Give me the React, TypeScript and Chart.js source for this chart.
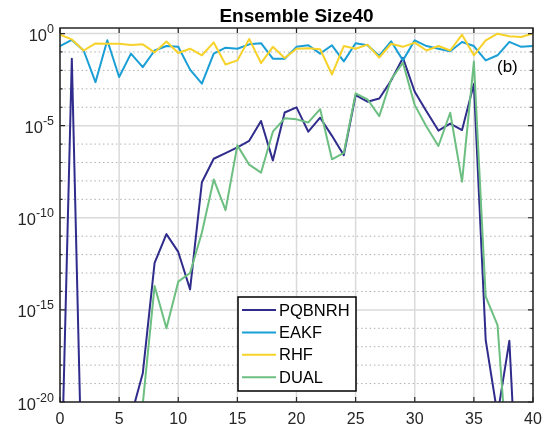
import { useEffect, useRef } from "react";
import { Chart, registerables } from "chart.js";

Chart.register(...registerables);

// Assimilation step index (x axis)
const STEPS = [
  0, 1, 2, 3, 4, 5, 6, 7, 8, 9, 10, 11, 12, 13, 14, 15, 16, 17, 18, 19, 20,
  21, 22, 23, 24, 25, 26, 27, 28, 29, 30, 31, 32, 33, 34, 35, 36, 37, 38, 39, 40,
];

// Error per step for each filter
const PQBNRH = [
  6e-28, 0.043, 4e-29, 1e-30, 1e-30, 1e-30, 1.6e-21, 3.6e-19, 3.6e-13, 1.3e-11,
  1.4e-12, 1.3e-14, 8.5e-9, 1.6e-7, 3.2e-7, 6.6e-7, 1.5e-6, 1.8e-5, 1.3e-7, 5.2e-5,
  9.8e-5, 4.7e-6, 2.7e-5, 2.8e-6, 2.5e-7, 4.5e-4, 2.0e-4, 3.0e-4, 2.8e-3, 0.048,
  6.9e-4, 5.8e-5, 5.4e-6, 1.3e-5, 5.8e-6, 1.8e-3, 2.3e-17, 2e-21, 2.1e-17, 4e-30,
  1e-30,
];
const EAKF = [
  0.21, 0.45, 0.12, 2.3e-3, 0.43, 4.4e-3, 0.081, 0.015, 0.12, 0.21,
  0.19, 0.011, 1.9e-3, 0.081, 0.17, 0.15, 0.26, 0.30, 0.043, 0.043,
  0.19, 0.23, 0.081, 0.23, 0.031, 0.30, 0.23, 0.063, 0.38, 0.035,
  0.43, 0.21, 0.15, 0.11, 0.35, 0.21, 0.035, 0.066, 0.35, 0.19,
  0.21,
];
const RHF = [
  0.87, 0.48, 0.12, 0.29, 0.28, 0.28, 0.24, 0.26, 0.095, 0.37,
  0.088, 0.15, 0.066, 0.33, 0.021, 0.035, 0.51, 0.025, 0.19, 0.047,
  0.15, 0.16, 0.14, 6.0e-3, 0.21, 0.15, 0.25, 0.050, 0.28, 0.19,
  0.32, 0.12, 0.21, 0.12, 0.87, 0.066, 0.43, 0.98, 0.72, 0.65,
  1.0,
];
const DUAL = [
  1e-30, 1e-30, 1e-30, 1e-30, 1e-30, 1e-30, 1e-26, 8e-21, 2e-14, 1e-16,
  3.4e-14, 1e-13, 1.6e-11, 1.2e-8, 2.6e-10, 8.5e-7, 7.6e-8, 2.8e-8, 4.7e-6, 2.5e-5,
  2.2e-5, 1.5e-5, 7.9e-5, 1.5e-7, 3.3e-7, 5.6e-4, 2.7e-4, 3.3e-5, 3.2e-3, 0.026,
  1.3e-4, 8.7e-6, 7.9e-7, 5.0e-5, 9.1e-9, 0.030, 5.2e-15, 1.5e-16, 2e-25, 1e-30,
  1e-30,
];

const SERIES = [PQBNRH, EAKF, RHF, DUAL];
const SERIES_NAMES = ["PQBNRH", "EAKF", "RHF", "DUAL"];
const SERIES_COLORS = ["#2f2c8c", "#1a9ed6", "#f7d22a", "#6cbf80"];

const X_TICKS = [0, 5, 10, 15, 20, 25, 30, 35, 40];
const Y_LABEL_EXPONENTS = [0, -5, -10, -15, -20];
const Y_DECADES = [
  0, -1, -2, -3, -4, -5, -6, -7, -8, -9, -10,
  -11, -12, -13, -14, -15, -16, -17, -18, -19, -20,
];
const Y_MIN = 1e-20;
const Y_MAX = 2;
const X_MIN = 0;
const X_MAX = 40;

const TITLE = "Ensemble Size40";
const PANEL_TAG = "(b)";

const FONT = '"Liberation Sans", Arial, Helvetica, sans-serif';
const AXIS_COLOR = "#262626";

const axesDecor = {
  id: "axesDecor",
  beforeDatasetsDraw(chart: any) {
    const { ctx, chartArea: a, scales } = chart;
    const xs = scales.x;
    const ys = scales.y;
    ctx.save();
    // vertical grid at the x ticks
    ctx.strokeStyle = "#dadada";
    ctx.lineWidth = 1.5;
    for (const t of X_TICKS) {
      const px = xs.getPixelForValue(t);
      ctx.beginPath();
      ctx.moveTo(px, a.top);
      ctx.lineTo(px, a.bottom);
      ctx.stroke();
    }
    // horizontal grid: solid at labelled decades, dotted elsewhere
    for (const e of Y_DECADES) {
      const py = ys.getPixelForValue(Math.pow(10, e));
      ctx.beginPath();
      if (Y_LABEL_EXPONENTS.includes(e)) {
        ctx.setLineDash([]);
        ctx.strokeStyle = "#dadada";
        ctx.lineWidth = 1.5;
      } else {
        ctx.setLineDash([1.5, 2.8]);
        ctx.strokeStyle = "#b0b0b0";
        ctx.lineWidth = 1;
      }
      ctx.moveTo(a.left, py);
      ctx.lineTo(a.right, py);
      ctx.stroke();
    }
    ctx.restore();
  },
  afterDatasetsDraw(chart: any) {
    const { ctx, chartArea: a, scales } = chart;
    const xs = scales.x;
    const ys = scales.y;
    ctx.save();
    ctx.setLineDash([]);

    // axes box
    ctx.strokeStyle = AXIS_COLOR;
    ctx.lineWidth = 1.5;
    ctx.strokeRect(a.left, a.top, a.right - a.left, a.bottom - a.top);

    // inward ticks, mirrored on all four sides
    ctx.lineWidth = 1.2;
    for (const t of X_TICKS) {
      const px = xs.getPixelForValue(t);
      ctx.beginPath();
      ctx.moveTo(px, a.bottom);
      ctx.lineTo(px, a.bottom - 5);
      ctx.moveTo(px, a.top);
      ctx.lineTo(px, a.top + 5);
      ctx.stroke();
    }
    for (const e of Y_DECADES) {
      const py = ys.getPixelForValue(Math.pow(10, e));
      const len = Y_LABEL_EXPONENTS.includes(e) ? 5 : 2.6;
      ctx.beginPath();
      ctx.moveTo(a.left, py);
      ctx.lineTo(a.left + len, py);
      ctx.moveTo(a.right, py);
      ctx.lineTo(a.right - len, py);
      ctx.stroke();
    }

    // x tick labels
    ctx.fillStyle = AXIS_COLOR;
    ctx.font = `16px ${FONT}`;
    ctx.textAlign = "center";
    ctx.textBaseline = "alphabetic";
    for (const t of X_TICKS) {
      ctx.fillText(String(t), xs.getPixelForValue(t), a.bottom + 22);
    }

    // y tick labels as 10 with a raised exponent
    for (const e of Y_LABEL_EXPONENTS) {
      const py = ys.getPixelForValue(Math.pow(10, e));
      const expText = String(e);
      ctx.font = `12.5px ${FONT}`;
      const expW = ctx.measureText(expText).width;
      ctx.font = `16.5px ${FONT}`;
      const baseW = ctx.measureText("10").width;
      const right = a.left - 6;
      ctx.textAlign = "left";
      ctx.fillText("10", right - expW - baseW, py + 7.5);
      ctx.font = `12.5px ${FONT}`;
      ctx.fillText(expText, right - expW, py - 0.5);
    }

    // title
    ctx.font = `bold 19px ${FONT}`;
    ctx.textAlign = "center";
    ctx.fillStyle = "#000000";
    ctx.fillText(TITLE, (a.left + a.right) / 2, 22);

    // panel tag
    ctx.font = `17px ${FONT}`;
    ctx.textAlign = "left";
    ctx.fillStyle = "#000000";
    ctx.fillText(PANEL_TAG, 497, 72);

    // legend
    const bx = 238;
    const by = 297;
    const bw = 118;
    const bh = 94;
    ctx.fillStyle = "#ffffff";
    ctx.fillRect(bx, by, bw, bh);
    ctx.strokeStyle = "#000000";
    ctx.lineWidth = 1.5;
    ctx.strokeRect(bx, by, bw, bh);
    ctx.font = `16.5px ${FONT}`;
    ctx.textBaseline = "middle";
    chart.data.datasets.forEach((ds: any, i: number) => {
      const cy = by + 13 + i * 22.4;
      ctx.strokeStyle = ds.borderColor;
      ctx.lineWidth = 2;
      ctx.beginPath();
      ctx.moveTo(bx + 4, cy);
      ctx.lineTo(bx + 38, cy);
      ctx.stroke();
      ctx.fillStyle = "#000000";
      ctx.fillText(ds.label, bx + 41, cy + 1);
    });

    ctx.restore();
  },
};

export default function App() {
  const canvasRef = useRef<HTMLCanvasElement | null>(null);

  useEffect(() => {
    const canvas = canvasRef.current;
    if (!canvas) return;
    const chart = new Chart(canvas, {
      type: "line",
      data: {
        datasets: SERIES.map((values, i) => ({
          label: SERIES_NAMES[i],
          data: STEPS.map((s, k) => ({ x: s, y: values[k] })),
          borderColor: SERIES_COLORS[i],
          backgroundColor: SERIES_COLORS[i],
          borderWidth: 2,
          borderJoinStyle: "round" as const,
          pointRadius: 0,
          tension: 0,
          fill: false,
          order: SERIES.length - i,
        })),
      },
      options: {
        animation: false,
        responsive: true,
        maintainAspectRatio: false,
        events: [],
        layout: { padding: { left: 60, right: 14, top: 28, bottom: 27 } },
        scales: {
          x: { type: "linear", min: X_MIN, max: X_MAX, display: false },
          y: { type: "logarithmic", min: Y_MIN, max: Y_MAX, display: false },
        },
        plugins: {
          legend: { display: false },
          title: { display: false },
          tooltip: { enabled: false },
        },
      },
      plugins: [axesDecor],
    });
    return () => chart.destroy();
  }, []);

  return (
    <div
      style={{
        position: "absolute",
        left: 0,
        top: 0,
        width: 547,
        height: 429,
        background: "#ffffff",
      }}
    >
      <canvas ref={canvasRef} />
    </div>
  );
}
